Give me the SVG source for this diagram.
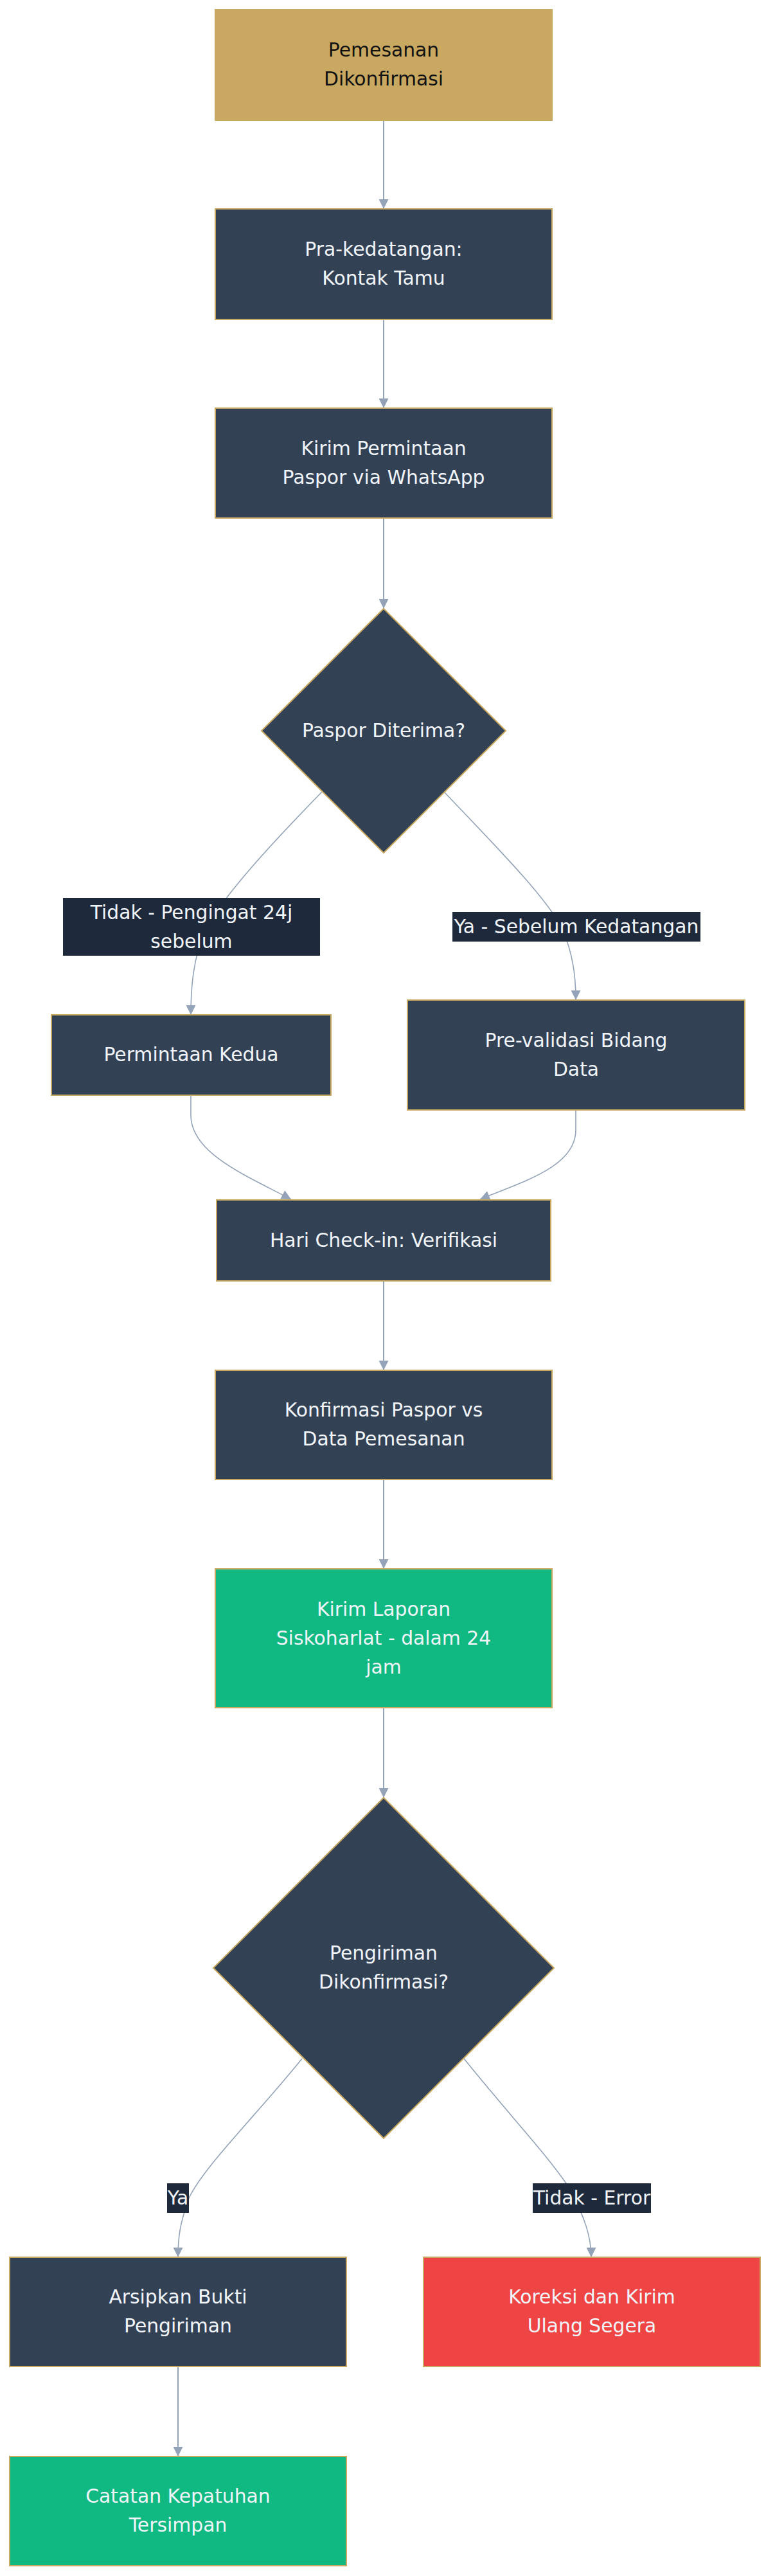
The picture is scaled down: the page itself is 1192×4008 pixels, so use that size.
<svg xmlns="http://www.w3.org/2000/svg" width="1192" height="4008" viewBox="0 0 1192 4008">
<defs>
<marker id="arr" viewBox="0 0 10 10" refX="10" refY="5" markerUnits="userSpaceOnUse" markerWidth="16" markerHeight="15" orient="auto">
<path d="M0,0 L10,5 L0,10 z" fill="#94a3b8"/>
</marker>
</defs>
<style>
.n{fill:#334155;stroke:#c9a962;stroke-width:2}
.gold{fill:#c9a962;stroke:#c9a962;stroke-width:2}
.green{fill:#10b981;stroke:#c9a962;stroke-width:2}
.red{fill:#ef4444;stroke:#c9a962;stroke-width:2}
.t{font-family:"DejaVu Sans","Noto Sans",sans-serif;font-size:29.8px;fill:#f1f5f9;text-anchor:middle}
.td{fill:#111111}
.e{fill:none;stroke:#94a3b8;stroke-width:2;marker-end:url(#arr)}
.ec{fill:none;stroke:#94a3b8;stroke-width:1.6;marker-end:url(#arr)}
.lb{fill:#1e293b}
</style>
<rect x="0" y="0" width="1192" height="4008" fill="#ffffff"/>
<g id="edges">
<path class="e" d="M597,187 L597,325"/>
<path class="e" d="M597,497 L597,635"/>
<path class="e" d="M597,806 L597,947"/>
<path class="ec" d="M501,1232 C430,1305 345,1395 318,1450 C302,1490 297,1530 297,1579"/>
<path class="ec" d="M691,1232 C760,1305 850,1395 875,1445 C892,1485 896,1520 896,1556"/>
<path class="ec" d="M297,1704 L297,1735 C297,1795 385,1830 453,1866"/>
<path class="ec" d="M896,1727 L896,1758 C896,1815 815,1838 747,1866"/>
<path class="e" d="M597,1993 L597,2132"/>
<path class="e" d="M597,2302 L597,2441"/>
<path class="e" d="M597,2657 L597,2797"/>
<path class="ec" d="M470,3203 C400,3290 318,3370 294,3420 C280,3460 277,3480 277,3512"/>
<path class="ec" d="M722,3203 C792,3290 862,3365 886,3405 C910,3450 920,3480 920,3512"/>
<path class="e" d="M277,3682 L277,3822"/>
</g>
<g id="edge-labels">
<g id="lbl-tidak-pengingat">
<rect class="lb" x="98" y="1397" width="400" height="90"/>
<text class="t" x="298" y="1430">Tidak - Pengingat 24j</text>
<text class="t" x="298" y="1475">sebelum</text>
</g>
<g id="lbl-ya-sebelum">
<rect class="lb" x="704" y="1419" width="386" height="46"/>
<text class="t" x="897" y="1452">Ya - Sebelum Kedatangan</text>
</g>
<g id="lbl-ya">
<rect class="lb" x="260" y="3397" width="34" height="46"/>
<text class="t" x="277" y="3430">Ya</text>
</g>
<g id="lbl-tidak-error">
<rect class="lb" x="829" y="3397" width="184" height="46"/>
<text class="t" x="921" y="3430">Tidak - Error</text>
</g>
</g>
<g id="n1">
<rect class="gold" x="335" y="15" width="524" height="172"/>
<text class="t td" x="597" y="88">Pemesanan</text>
<text class="t td" x="597" y="133">Dikonfirmasi</text>
</g>
<g id="n2">
<rect class="n" x="335" y="325" width="524" height="172"/>
<text class="t" x="597" y="398">Pra-kedatangan:</text>
<text class="t" x="597" y="443">Kontak Tamu</text>
</g>
<g id="n3">
<rect class="n" x="335" y="635" width="524" height="171"/>
<text class="t" x="597" y="708">Kirim Permintaan</text>
<text class="t" x="597" y="753">Paspor via WhatsApp</text>
</g>
<g id="d1">
<polygon class="n" points="597,947 787,1137 597,1327 407,1137"/>
<text class="t" x="597" y="1147">Paspor Diterima?</text>
</g>
<g id="n5">
<rect class="n" x="80" y="1579" width="435" height="125"/>
<text class="t" x="297.5" y="1651">Permintaan Kedua</text>
</g>
<g id="n6">
<rect class="n" x="634" y="1556" width="525" height="171"/>
<text class="t" x="896.5" y="1629">Pre-validasi Bidang</text>
<text class="t" x="896.5" y="1674">Data</text>
</g>
<g id="n7">
<rect class="n" x="337" y="1867" width="520" height="126"/>
<text class="t" x="597" y="1940">Hari Check-in: Verifikasi</text>
</g>
<g id="n8">
<rect class="n" x="335" y="2132" width="524" height="170"/>
<text class="t" x="597" y="2204">Konfirmasi Paspor vs</text>
<text class="t" x="597" y="2249">Data Pemesanan</text>
</g>
<g id="n9">
<rect class="green" x="335" y="2441" width="524" height="216"/>
<text class="t" x="597" y="2514">Kirim Laporan</text>
<text class="t" x="597" y="2559">Siskoharlat - dalam 24</text>
<text class="t" x="597" y="2604">jam</text>
</g>
<g id="d2">
<polygon class="n" points="597,2797 862,3062 597,3327 332,3062"/>
<text class="t" x="597" y="3049">Pengiriman</text>
<text class="t" x="597" y="3094">Dikonfirmasi?</text>
</g>
<g id="n11">
<rect class="n" x="15" y="3512" width="524" height="170"/>
<text class="t" x="277" y="3584">Arsipkan Bukti</text>
<text class="t" x="277" y="3629">Pengiriman</text>
</g>
<g id="n12">
<rect class="red" x="659" y="3512" width="524" height="170"/>
<text class="t" x="921" y="3584">Koreksi dan Kirim</text>
<text class="t" x="921" y="3629">Ulang Segera</text>
</g>
<g id="n13">
<rect class="green" x="15" y="3822" width="524" height="170"/>
<text class="t" x="277" y="3894">Catatan Kepatuhan</text>
<text class="t" x="277" y="3939">Tersimpan</text>
</g>
</svg>
